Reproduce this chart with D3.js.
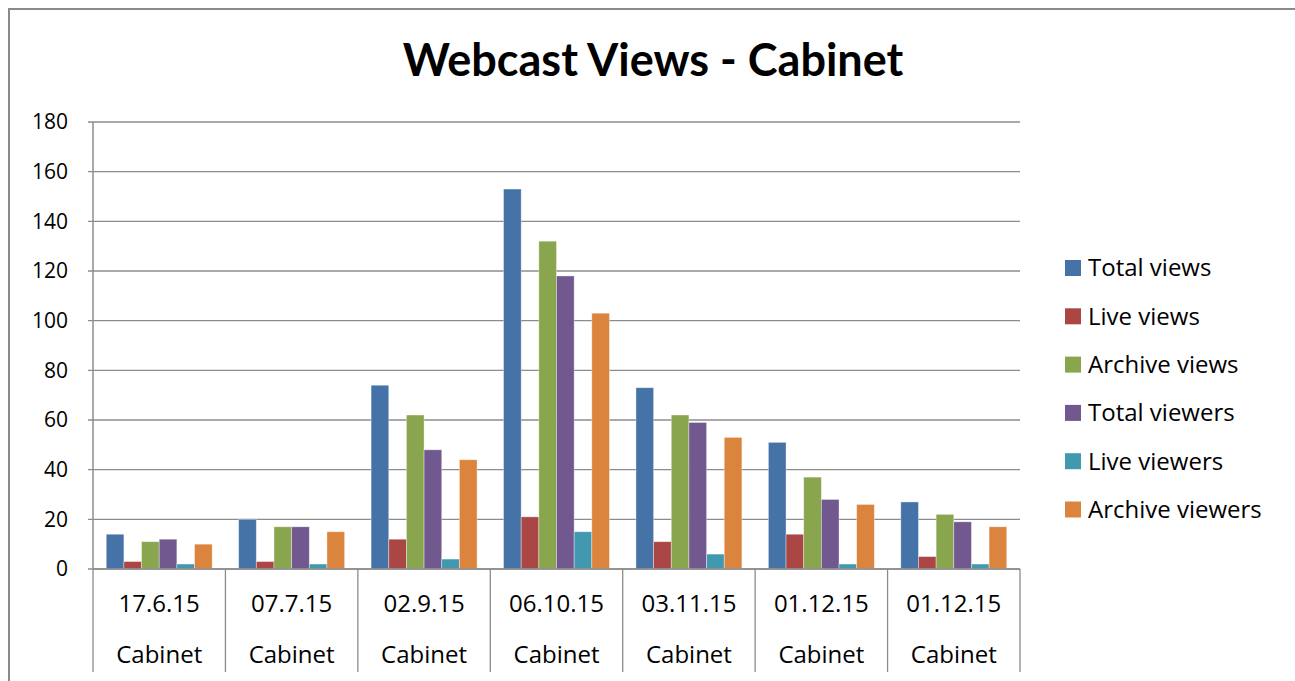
<!DOCTYPE html>
<html>
<head>
<meta charset="utf-8">
<script src="https://cdn.jsdelivr.net/npm/d3@7"></script>
<style>
  body { margin: 0; background: #fff; }
  text { font-family: Lato, "Open Sans", sans-serif; fill: #000; }
  .lbl { font-family: "Open Sans", sans-serif; }
</style>
</head>
<body>
<svg></svg>
<script>
var width = 1295;
var height = 681;

var dates = ["17.6.15", "07.7.15", "02.9.15", "06.10.15", "03.11.15", "01.12.15", "01.12.15"];
var seriesNames = ["Total views", "Live views", "Archive views", "Total viewers", "Live viewers", "Archive viewers"];
var colors = ["#4572A7", "#AA4643", "#89A54E", "#71588F", "#4198AF", "#DB843D"];

var totalViews     = [14, 20, 74, 153, 73, 51, 27];
var liveViews      = [3, 3, 12, 21, 11, 14, 5];
var archiveViews   = [11, 17, 62, 132, 62, 37, 22];
var totalViewers   = [12, 17, 48, 118, 59, 28, 19];
var liveViewers    = [2, 2, 4, 15, 6, 2, 2];
var archiveViewers = [10, 15, 44, 103, 53, 26, 17];
var yTicks = [0, 20, 40, 60, 80, 100, 120, 140, 160, 180];

var series = [totalViews, liveViews, archiveViews, totalViewers, liveViewers, archiveViewers];

var plot = {left: 93, right: 1020, top: 122, bottom: 569};

var svg = d3.select("svg")
    .attr("width", width)
    .attr("height", height);

// outer chart frame
svg.append("rect")
    .attr("x", 9).attr("y", 9)
    .attr("width", width + 20).attr("height", height + 20)
    .attr("fill", "none")
    .attr("stroke", "#8a8a8a")
    .attr("stroke-width", 2);

svg.append("text")
    .attr("x", 653).attr("y", 76)
    .attr("text-anchor", "middle")
    .attr("font-size", 45)
    .attr("font-weight", "bold")
    .text("Webcast Views - Cabinet");

var yScale = d3.scaleLinear()
  .domain([0, 180])
  .range([plot.bottom, plot.top]);

var x0 = d3.scaleBand()
  .domain(d3.range(dates.length))
  .range([plot.left, plot.right]);

// gap width 150% -> 0.75 bar width on each side
var barW = x0.bandwidth() / 7.5;
var x1 = d3.scaleBand()
  .domain(d3.range(series.length))
  .range([barW * 0.75, x0.bandwidth() - barW * 0.75]);

// gridlines + small outside ticks
svg.append("g")
  .selectAll("line")
  .data(yTicks)
  .enter()
  .append("line")
    .attr("x1", plot.left - 5).attr("x2", plot.right)
    .attr("y1", d => yScale(d)).attr("y2", d => yScale(d))
    .attr("stroke", "#8c8c8c")
    .attr("stroke-width", 1.3);

svg.append("g")
  .selectAll("text")
  .data(yTicks)
  .enter()
  .append("text")
    .attr("class", "lbl")
    .attr("x", 68)
    .attr("y", d => yScale(d))
    .attr("dy", "0.35em")
    .attr("text-anchor", "end")
    .attr("font-size", 21)
    .text(d => d);

// bars
svg.append("g")
  .selectAll("g")
  .data(series)
  .enter()
  .append("g")
    .attr("fill", (d, i) => colors[i])
  .selectAll("rect")
  .data((d, i) => d.map((v, j) => ({s: i, c: j, v: v})))
  .enter()
  .append("rect")
    .attr("x", d => x0(d.c) + x1(d.s))
    .attr("y", d => yScale(d.v))
    .attr("width", x1.bandwidth())
    .attr("height", d => yScale(0) - yScale(d.v))
    .attr("stroke", "rgba(255,255,255,0.45)")
    .attr("stroke-width", 0.8);

// axes lines
svg.append("line")
    .attr("x1", plot.left).attr("x2", plot.left)
    .attr("y1", plot.top).attr("y2", plot.bottom)
    .attr("stroke", "#8c8c8c").attr("stroke-width", 1.5);

svg.append("line")
    .attr("x1", plot.left).attr("x2", plot.right)
    .attr("y1", plot.bottom).attr("y2", plot.bottom)
    .attr("stroke", "#8c8c8c").attr("stroke-width", 1.5);

// category separators
svg.append("g")
  .selectAll("line")
  .data(d3.range(dates.length + 1))
  .enter()
  .append("line")
    .attr("x1", d => plot.left + d * x0.bandwidth())
    .attr("x2", d => plot.left + d * x0.bandwidth())
    .attr("y1", plot.bottom).attr("y2", 672)
    .attr("stroke", "#8c8c8c").attr("stroke-width", 1.3);

svg.append("g")
  .selectAll("text")
  .data(dates)
  .enter()
  .append("text")
    .attr("class", "lbl")
    .attr("x", (d, i) => x0(i) + x0.bandwidth() / 2)
    .attr("y", 604)
    .attr("dy", "0.35em")
    .attr("text-anchor", "middle")
    .attr("font-size", 24)
    .text(d => d);

svg.append("g")
  .selectAll("text")
  .data(dates)
  .enter()
  .append("text")
    .attr("class", "lbl")
    .attr("x", (d, i) => x0(i) + x0.bandwidth() / 2)
    .attr("y", 655)
    .attr("dy", "0.35em")
    .attr("text-anchor", "middle")
    .attr("font-size", 24)
    .text("Cabinet");

// legend
var legend = svg.append("g")
  .selectAll("g")
  .data(seriesNames)
  .enter()
  .append("g")
    .attr("transform", (d, i) => "translate(1065," + (268 + i * 48.3) + ")");

legend.append("rect")
    .attr("x", 0).attr("y", -8)
    .attr("width", 16).attr("height", 16)
    .attr("fill", (d, i) => colors[i]);

legend.append("text")
    .attr("class", "lbl")
    .attr("x", 23)
    .attr("dy", "0.35em")
    .attr("font-size", 24)
    .text(d => d);
</script>
</body>
</html>
